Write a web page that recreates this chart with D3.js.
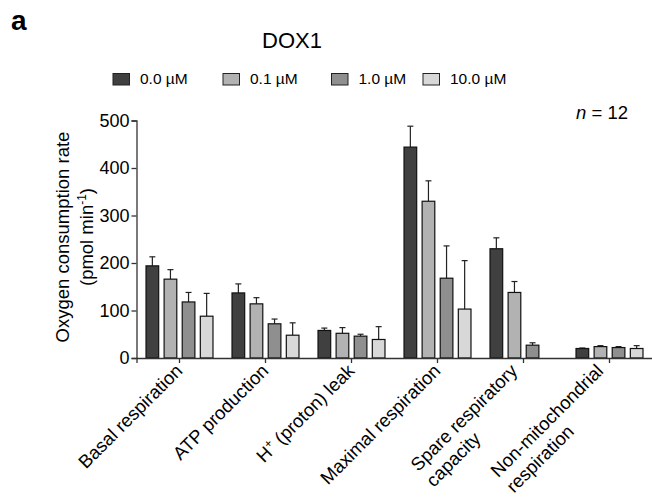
<!DOCTYPE html>
<html>
<head>
<meta charset="utf-8">
<script src="https://cdn.jsdelivr.net/npm/d3@7"></script>
<style>
  body { margin: 0; background: #fff; }
  svg { display: block; font-family: Arial, "Liberation Sans", sans-serif; }
</style>
</head>
<body>
<div id="chart"></div>
<script>
// data (DOX1, n = 12)
var categories = [
    ['Basal respiration'],
    ['ATP production'],
    ['H+ (proton) leak'],
    ['Maximal respiration'],
    ['Spare respiratory', 'capacity'],
    ['Non-mitochondrial', 'respiration']
];
var series = ['0.0 µM', '0.1 µM', '1.0 µM', '10.0 µM'];
var colors = ['#404040', '#b2b2b2', '#8f8f8f', '#d8d8d8'];
var means = [
    [194, 166, 118, 88],
    [137, 114, 72, 48],
    [58, 52, 46, 39],
    [444, 330, 168, 103],
    [230, 138, 27, 0],
    [20, 24, 22, 20]
];
var sems = [
    [19, 20, 20, 48],
    [19, 13, 10, 26],
    [5, 12, 4, 27],
    [44, 43, 68, 102],
    [23, 23, 5, 0],
    [1, 2, 2, 6]
];
var yTicks = [0, 100, 200, 300, 400, 500];

var width = 652, height = 498;
var svg = d3.select('#chart').append('svg')
    .attr('width', width)
    .attr('height', height);

var x0 = d3.scaleBand()
    .domain(d3.range(categories.length))
    .range([136.5, 652.5])
    .padding(0);
var x1 = d3.scaleBand()
    .domain(d3.range(series.length))
    .range([-36.2, 36.2])
    .paddingInner(0.3)
    .paddingOuter(0.15);
var y = d3.scaleLinear()
    .domain([0, 500])
    .range([358, 120.5]);

// panel letter + title
svg.append('text')
    .attr('x', 11).attr('y', 30)
    .attr('font-size', 28).attr('font-weight', 'bold')
    .text('a');
svg.append('text')
    .attr('x', 292).attr('y', 48)
    .attr('text-anchor', 'middle')
    .attr('font-size', 22)
    .text('DOX1');

// legend
var legendX = [113, 223, 331.5, 423];
var legend = svg.append('g').selectAll('g')
    .data(series)
    .join('g')
    .attr('transform', function(d, i){ return 'translate(' + legendX[i] + ',73.5)'; });
legend.append('rect')
    .attr('width', 16.5).attr('height', 11.5)
    .attr('fill', function(d, i){ return colors[i]; })
    .attr('stroke', '#222').attr('stroke-width', 1);
legend.append('text')
    .attr('x', 27).attr('y', 10.5)
    .attr('font-size', 15.5)
    .text(function(d){ return d; });

// n = 12
var nt = svg.append('text')
    .attr('x', 628).attr('y', 119)
    .attr('text-anchor', 'end')
    .attr('font-size', 18.5);
nt.append('tspan').attr('font-style', 'italic').text('n');
nt.append('tspan').text(' = 12');

// y axis
var yAxis = svg.append('g')
    .attr('transform', 'translate(136.5,0)')
    .call(d3.axisLeft(y).tickValues(yTicks).tickSize(5).tickPadding(2));
yAxis.select('.domain').attr('stroke', '#333').attr('stroke-width', 1.3);
yAxis.selectAll('.tick line').attr('stroke', '#333').attr('stroke-width', 1.3);
yAxis.selectAll('.tick text')
    .attr('font-size', 18)
    .attr('font-family', 'Arial, "Liberation Sans", sans-serif')
    .attr('fill', '#000');

var ylab = svg.append('text')
    .attr('transform', 'translate(69,237) rotate(-90)')
    .attr('text-anchor', 'middle')
    .attr('font-size', 18.5);
ylab.append('tspan').attr('x', 0).attr('y', 0).text('Oxygen consumption rate');
var l2 = ylab.append('tspan').attr('x', 0).attr('y', 24);
l2.append('tspan').text('(pmol min');
l2.append('tspan').attr('dy', -7).attr('font-size', 12).text('-1');
l2.append('tspan').attr('dy', 7).text(')');

// bars
var groups = svg.append('g').selectAll('g')
    .data(means)
    .join('g')
    .attr('transform', function(d, i){ return 'translate(' + (x0(i) + x0.bandwidth() / 2) + ',0)'; });

groups.each(function(vals, gi){
    var g = d3.select(this);
    var rows = vals.map(function(v, si){ return {v: v, e: sems[gi][si], s: si}; })
        .filter(function(d){ return d.v > 0; });
    g.selectAll('line.err')
        .data(rows)
        .join('line')
        .attr('class', 'err')
        .attr('x1', function(d){ return x1(d.s) + x1.bandwidth() / 2; })
        .attr('x2', function(d){ return x1(d.s) + x1.bandwidth() / 2; })
        .attr('y1', function(d){ return y(d.v); })
        .attr('y2', function(d){ return y(d.v + d.e); })
        .attr('stroke', '#222').attr('stroke-width', 1.2);
    g.selectAll('line.cap')
        .data(rows)
        .join('line')
        .attr('class', 'cap')
        .attr('x1', function(d){ return x1(d.s) + x1.bandwidth() / 2 - 3; })
        .attr('x2', function(d){ return x1(d.s) + x1.bandwidth() / 2 + 3; })
        .attr('y1', function(d){ return y(d.v + d.e); })
        .attr('y2', function(d){ return y(d.v + d.e); })
        .attr('stroke', '#222').attr('stroke-width', 1.2);
    g.selectAll('rect')
        .data(rows)
        .join('rect')
        .attr('x', function(d){ return x1(d.s); })
        .attr('width', x1.bandwidth())
        .attr('y', function(d){ return y(d.v); })
        .attr('height', function(d){ return y(0) - y(d.v); })
        .attr('fill', function(d){ return colors[d.s]; })
        .attr('stroke', '#111').attr('stroke-width', 1.2);
});

// x axis
var xAxis = svg.append('g')
    .attr('transform', 'translate(0,358)')
    .call(d3.axisBottom(x0).tickSize(5).tickFormat(''));
xAxis.select('.domain').attr('stroke', '#333').attr('stroke-width', 1.3);
xAxis.selectAll('.tick line').attr('stroke', '#333').attr('stroke-width', 1.3);

// rotated category labels, multi-line ones left-aligned like the original
var labels = svg.append('g').selectAll('text')
    .data(categories)
    .join('text')
    .attr('font-size', 18.5)
    .attr('transform', function(d, i){
        var shift = d.length > 1 ? -9 : 0;
        return 'translate(' + (x0(i) + x0.bandwidth() / 2 + 4 + shift) + ',372) rotate(-45)';
    })
    .attr('text-anchor', 'start');

labels.each(function(lines){
    var t = d3.select(this);
    var first = t.append('tspan').attr('x', 0).attr('y', 0);
    if (lines[0].indexOf('H+') === 0){
        first.append('tspan').text('H');
        first.append('tspan').attr('dy', -7).attr('font-size', 12).text('+');
        first.append('tspan').attr('dy', 7).text(' (proton) leak');
    } else {
        first.text(lines[0]);
    }
    var len = first.node().getComputedTextLength();
    first.attr('x', -len);
    first.selectAll('tspan').filter(function(d, k){ return k === 0; }).attr('x', -len);
    if (lines[1]){
        t.append('tspan').attr('x', -len).attr('y', 22).text(lines[1]);
    }
});
</script>
</body>
</html>
